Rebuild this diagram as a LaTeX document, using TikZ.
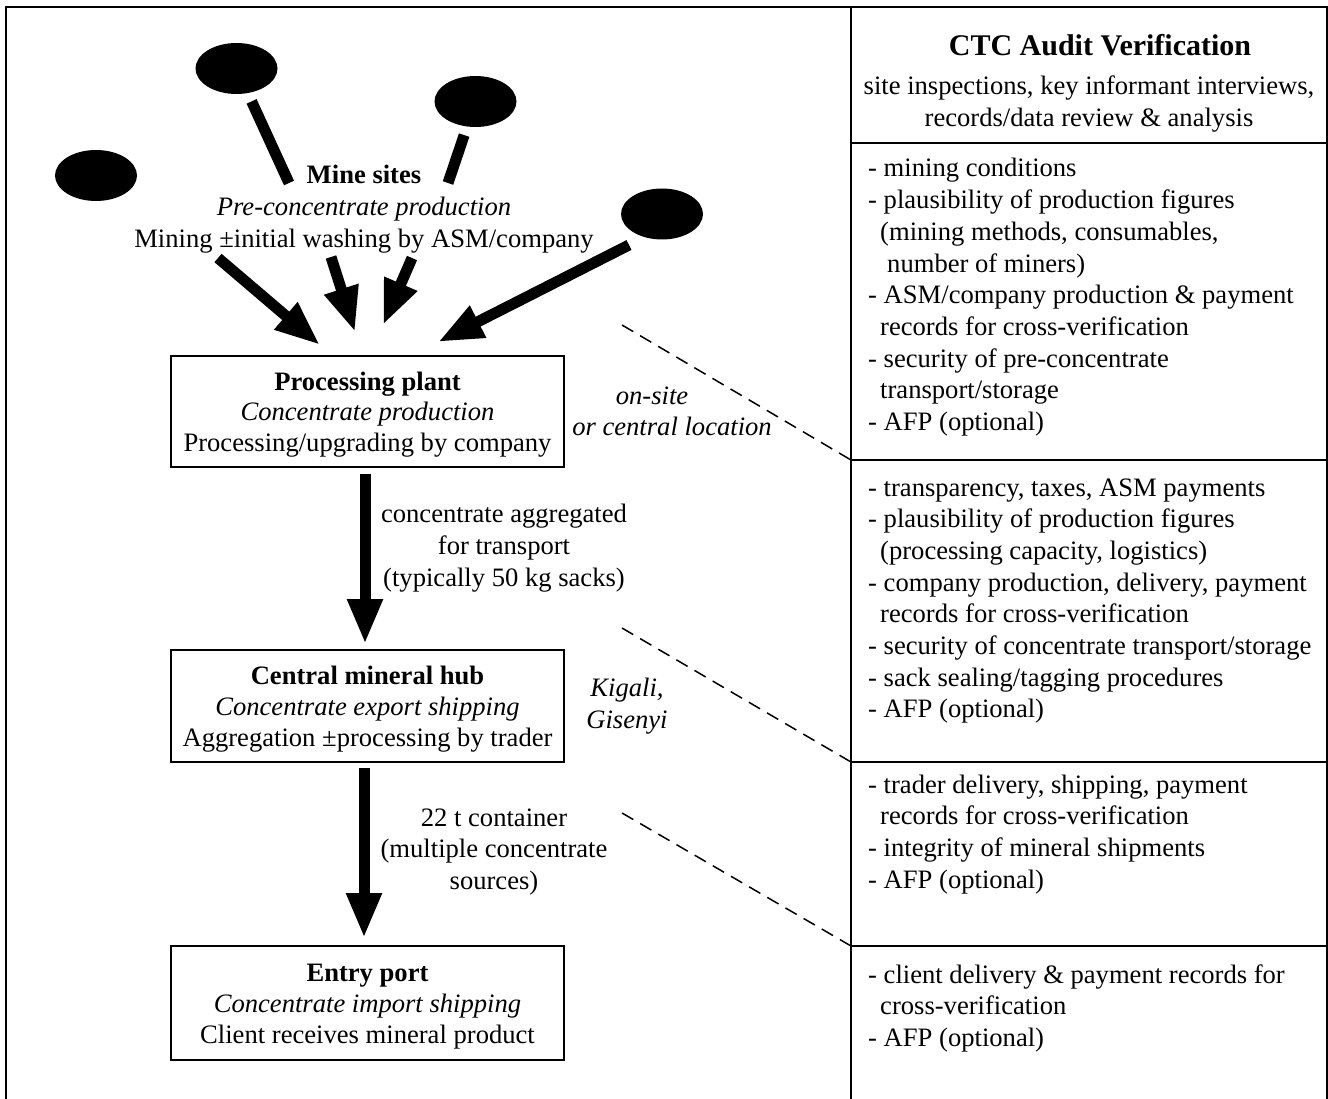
\documentclass[tikz,border=0pt]{standalone}
\usepackage{fontspec}
\setmainfont{Liberation Serif}
\usetikzlibrary{arrows.meta,shapes.geometric}
\begin{document}
\begin{tikzpicture}[x=1pt,y=-1pt,
  txt/.style={font=\fontsize{26.6pt}{31.7pt}\selectfont, inner sep=0pt, align=center},
  itxt/.style={font=\fontsize{26.6pt}{31.7pt}\selectfont\itshape, inner sep=0pt, align=center},
  stagebox/.style={draw, line width=2pt, minimum width=393pt, align=center, inner sep=0pt,
    font=\fontsize{26.6pt}{30.8pt}\selectfont},
  mine/.style={ellipse, fill=black, minimum width=82pt, minimum height=51pt, inner sep=0pt, outer sep=9pt},
  feeder/.style={line width=11pt},
  bigarrow/.style={line width=11pt, -{Triangle[length=45pt,width=33pt]}},
  frame/.style={line width=2pt},
  guide/.style={line width=1.5pt, dash pattern=on 13pt off 8pt}
]
\useasboundingbox (0,0) rectangle (1328,1099);
\fill[white] (0,0) rectangle (1328,1099);

% frame
\coordinate (fbl) at (6,1099);
\coordinate (ftl) at (6,7);
\coordinate (ftr) at (1327,7);
\coordinate (fbr) at (1327,1099);
\coordinate (dtop) at (851,7);
\coordinate (dbot) at (851,1099);
\draw[frame] (fbl) -- (ftl) -- (ftr) -- (fbr);
\draw[frame] (dtop) -- (dbot);
\coordinate (s1) at (851,143); \coordinate (s1r) at (1327,143);
\coordinate (s2) at (851,460); \coordinate (s2r) at (1327,460);
\coordinate (s3) at (851,762); \coordinate (s3r) at (1327,762);
\coordinate (s4) at (851,946); \coordinate (s4r) at (1327,946);
\draw[frame] (s1) -- (s1r);
\draw[frame] (s2) -- (s2r);
\draw[frame] (s3) -- (s3r);
\draw[frame] (s4) -- (s4r);

% mine sites
\node[mine] (m1) at (96,175.5) {};
\node[mine] (m2) at (236.5,68.5) {};
\node[mine] (m3) at (475.5,101.5) {};
\node[mine] (m4) at (662,214) {};
\node[txt] (mines) at (364,209) {\textbf{Mine sites}\\\textit{Pre-concentrate production}\\Mining ±initial washing by ASM/company};

\coordinate (m2e) at (289,183);
\coordinate (m3e) at (448,183);
\draw[feeder] (m2) -- (m2e);
\draw[feeder] (m3) -- (m3e);

\coordinate (a1s) at (218,258); \coordinate (a1t) at (320,345);
\coordinate (a2s) at (331,257); \coordinate (a2t) at (355,332);
\coordinate (a3s) at (412,258); \coordinate (a3t) at (383,325);
\coordinate (a4s) at (629,245); \coordinate (a4t) at (438,342);
\draw[bigarrow] (a1s) -- (a1t);
\draw[bigarrow] (a2s) -- (a2t);
\draw[bigarrow] (a3s) -- (a3t);
\draw[bigarrow] (a4s) -- (a4t);

% stage boxes
\node[stagebox, minimum height=111pt] (pp) at (367.5,411.5)
  {\rule{0pt}{24.5pt}\textbf{Processing plant}\\\textit{Concentrate production}\\Processing/upgrading by company};
\node[stagebox, minimum height=112pt] (hub) at (367.5,706)
  {\rule{0pt}{24.5pt}\textbf{Central mineral hub}\\\textit{Concentrate export shipping}\\Aggregation ±processing by trader};
\node[stagebox, minimum height=114pt] (port) at (367.5,1003)
  {\rule{0pt}{24.5pt}\textbf{Entry port}\\\textit{Concentrate import shipping}\\Client receives mineral product};

\draw[bigarrow, shorten <=6pt, shorten >=5pt] ([xshift=-2.5pt]pp.south) -- ([xshift=-2.5pt]hub.north);
\draw[bigarrow, shorten <=5pt, shorten >=7pt] ([xshift=-3.5pt]hub.south) -- ([xshift=-3.5pt]port.north);

% side labels
\node[txt] (lab1) at (504,548) {concentrate aggregated\\for transport\\(typically 50 kg sacks)};
\node[txt] (lab2) at (494,852) {22 t container\\(multiple concentrate\\sources)};
\node[itxt, anchor=base] (loc1a) at (652,404) {on-site};
\node[itxt, anchor=base] (loc1b) at (672,435) {or central location};
\node[itxt] (loc2) at (627,706) {Kigali,\\Gisenyi};

% dashed guides
\coordinate (d1s) at (622,325);
\coordinate (d2s) at (622,628);
\coordinate (d3s) at (622,813);
\draw[guide] (d1s) -- (s2);
\draw[guide] (d2s) -- (s3);
\draw[guide] (d3s) -- (s4);

% right column
\node[inner sep=0pt, anchor=base, font=\fontsize{30pt}{35pt}\selectfont\bfseries] (hd) at (1100,56) {CTC Audit Verification};
\node[txt, anchor=base] (hs) at (1089,95) {\begin{tabular}[t]{@{}c@{}}site inspections, key informant interviews,\\records/data review \& analysis\end{tabular}};

\node[txt, anchor=base west] (b1) at (868,177) {\begin{tabular}[t]{@{}l@{}}
- mining conditions\\
- plausibility of production figures\\
\hspace*{12pt}(mining methods, consumables,\\
\hspace*{19pt}number of miners)\\
- ASM/company production \& payment\\
\hspace*{12pt}records for cross-verification\\
- security of pre-concentrate\\
\hspace*{12pt}transport/storage\\
- AFP (optional)
\end{tabular}};

\node[txt, anchor=base west] (b2) at (868,496) {\begin{tabular}[t]{@{}l@{}}
- transparency, taxes, ASM payments\\
- plausibility of production figures\\
\hspace*{12pt}(processing capacity, logistics)\\
- company production, delivery, payment\\
\hspace*{12pt}records for cross-verification\\
- security of concentrate transport/storage\\
- sack sealing/tagging procedures\\
- AFP (optional)
\end{tabular}};

\node[txt, anchor=base west] (b3) at (868,793) {\begin{tabular}[t]{@{}l@{}}
- trader delivery, shipping, payment\\
\hspace*{12pt}records for cross-verification\\
- integrity of mineral shipments\\
- AFP (optional)
\end{tabular}};

\node[txt, anchor=base west] (b4) at (868,983) {\begin{tabular}[t]{@{}l@{}}
- client delivery \& payment records for\\
\hspace*{12pt}cross-verification\\
- AFP (optional)
\end{tabular}};
\end{tikzpicture}
\end{document}
